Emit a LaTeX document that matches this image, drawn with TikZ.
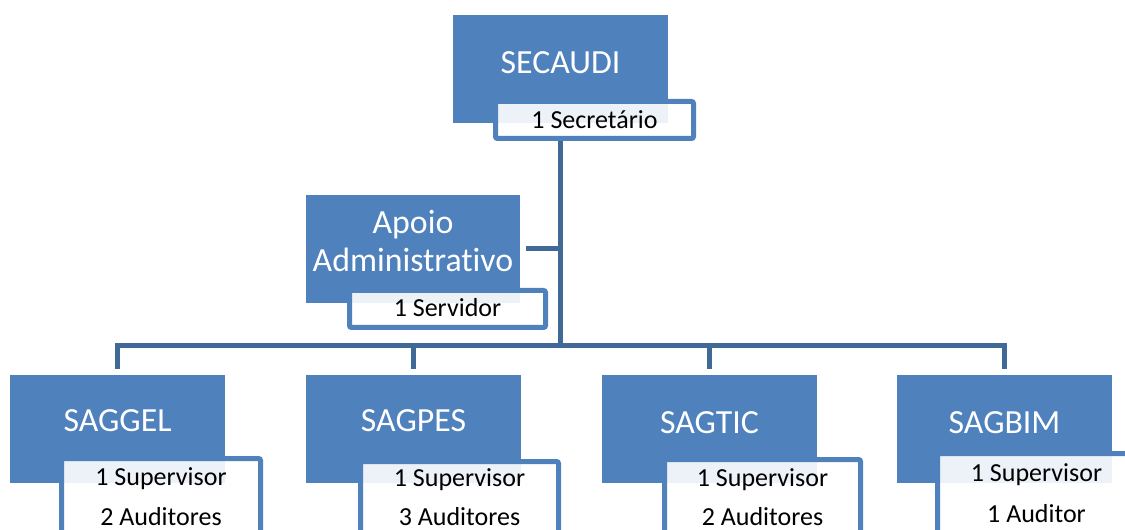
\documentclass[tikz,border=0pt]{standalone}
\usepackage{fontspec}
\setmainfont{Carlito}[Ligatures={NoCommon}]
\usetikzlibrary{calc}
\definecolor{boxblue}{RGB}{79,129,189}
\definecolor{subblue}{RGB}{79,129,189}
\definecolor{connblue}{RGB}{65,105,152}
\tikzset{
  unit/.style={rectangle, fill=boxblue, draw=none, inner sep=0pt, outer sep=0pt,
    minimum width=215bp, minimum height=108bp, anchor=north west},
  subbox/.style={rectangle, draw=subblue, line width=5bp, fill=white, fill opacity=0.9,
    rounded corners=2bp, inner sep=0pt, outer sep=0pt, anchor=north west},
  conn/.style={draw=connblue, line width=5bp, line join=miter},
  title/.style={text=white, anchor=base, inner sep=0pt, font=\fontsize{33.8bp}{39bp}\selectfont},
  info/.style={text=black, anchor=base, inner sep=0pt, font=\fontsize{26bp}{31bp}\selectfont},
}
\begin{document}
\begin{tikzpicture}[x=1bp,y=-1bp]
\useasboundingbox (0,0) rectangle (1125,530);
\clip (0,0) rectangle (1125,530);

% boxes
\node[unit] (secaudi) at (453,15) {};
\node[unit, minimum width=214bp] (apoio) at (306,195) {};
\node[unit] (saggel) at (10,375) {};
\node[unit] (sagpes) at (306,375) {};
\node[unit] (sagtic) at (602,375) {};
\node[unit] (sagbim) at (897,375) {};

% connectors
\coordinate (bus) at (560.5,345.5);
\coordinate (secbottom) at (560.5,141);
\draw[conn] (secbottom) -- (bus);
\draw[conn] ($(apoio.east)+(6,0)$) -- (apoio.east -| bus);
\draw[conn] ($(saggel.north)+(0,-6)$) |- (bus) -| ($(sagbim.north)+(0,-6)$);
\draw[conn] ($(sagpes.north)+(0,-6)$) -- (sagpes.north |- bus);
\draw[conn] ($(sagtic.north)+(0,-6)$) -- (sagtic.north |- bus);

% sub boxes
\node[subbox, minimum width=198bp, minimum height=37bp] (secsub) at (495.5,101.5) {};
\node[subbox, minimum width=196bp, minimum height=37bp] (apoiosub) at (349.5,290.5) {};
\node[subbox, minimum width=199bp, minimum height=120bp] (saggelsub) at (61.5,458.5) {};
\node[subbox, minimum width=198bp, minimum height=120bp] (sagpessub) at (360.5,461.5) {};
\node[subbox, minimum width=196bp, minimum height=120bp] (sagticsub) at (664.5,459.5) {};
\node[subbox, minimum width=198bp, minimum height=120bp] (sagbimsub) at (937.5,453.5) {};

% texts
\node[title] (secaudi-t) at (560.5,73.3) {SECAUDI};
\node[info] (secsub-t) at (594.5,128.7) {1 Secretário};
\node[title] (apoio-t1) at (413,233.3) {Apoio};
\node[title] (apoio-t2) at (413,271.7) {Administrativo};
\node[info] (apoiosub-t) at (447.5,316.7) {1 Servidor};

\node[title] (saggel-t) at (117.5,431.7) {SAGGEL};
\node[info] (saggel-s1) at (161,485) {1 Supervisor};
\node[info] (saggel-s2) at (161,525) {2 Auditores};

\node[title] (sagpes-t) at (413.5,431.7) {SAGPES};
\node[info] (sagpes-s1) at (459.5,486) {1 Supervisor};
\node[info] (sagpes-s2) at (459.5,525) {3 Auditores};

\node[title] (sagtic-t) at (709.5,433.3) {SAGTIC};
\node[info] (sagtic-s1) at (762.5,486) {1 Supervisor};
\node[info] (sagtic-s2) at (762.5,525) {2 Auditores};

\node[title] (sagbim-t) at (1004.5,433.3) {SAGBIM};
\node[info] (sagbim-s1) at (1036.5,481.7) {1 Supervisor};
\node[info] (sagbim-s2) at (1036.5,522.7) {1 Auditor};
\end{tikzpicture}
\end{document}
